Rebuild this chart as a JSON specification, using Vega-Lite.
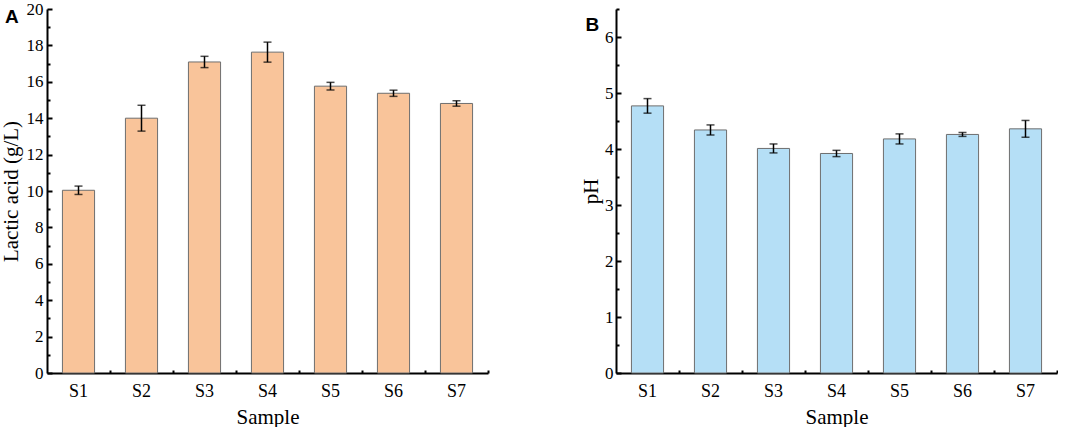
{
  "$schema": "https://vega.github.io/schema/vega-lite/v6.json",
  "padding": {"left": 0, "top": 0, "right": 0, "bottom": 0},
  "datasets": {
    "lactic": [
      {"sample": "S1", "value": 10.04, "err": 0.23},
      {"sample": "S2", "value": 14.0, "err": 0.71},
      {"sample": "S3", "value": 17.09, "err": 0.31},
      {"sample": "S4", "value": 17.63, "err": 0.55},
      {"sample": "S5", "value": 15.76, "err": 0.21},
      {"sample": "S6", "value": 15.37, "err": 0.17},
      {"sample": "S7", "value": 14.81, "err": 0.15}
    ],
    "ph": [
      {"sample": "S1", "value": 4.77, "err": 0.13},
      {"sample": "S2", "value": 4.34, "err": 0.09},
      {"sample": "S3", "value": 4.01, "err": 0.08},
      {"sample": "S4", "value": 3.92, "err": 0.056},
      {"sample": "S5", "value": 4.18, "err": 0.09},
      {"sample": "S6", "value": 4.26, "err": 0.035},
      {"sample": "S7", "value": 4.36, "err": 0.15}
    ]
  },
  "config": {
    "view": {"stroke": null},
    "axis": {
      "labelFont": "Liberation Serif",
      "titleFont": "Liberation Serif",
      "labelFontSize": 17,
      "titleFontSize": 21,
      "titleFontWeight": "normal",
      "labelColor": "#000",
      "titleColor": "#000",
      "domainColor": "#000",
      "tickColor": "#000",
      "domainWidth": 2,
      "tickWidth": 2,
      "grid": false
    },
    "title": {
      "font": "Liberation Sans",
      "fontSize": 19,
      "fontWeight": "bold",
      "color": "#000",
      "anchor": "start",
      "frame": "bounds",
      "offset": 0,
      "dx": 5,
      "dy": 31
    }
  },
  "spacing": 91,
  "hconcat": [
    {
      "width": 441,
      "height": 364,
      "data": {"name": "lactic"},
      "title": "A",
      "layer": [
        {
          "mark": {"type": "bar", "fill": "#F9C49A", "stroke": "#6E6E6E", "strokeWidth": 1},
          "encoding": {
            "x": {
              "field": "sample", "type": "nominal",
              "scale": {"paddingInner": 0.49, "paddingOuter": 0.245},
              "axis": {"orient": "bottom", "labelAngle": 0, "tickSize": -5, "labelPadding": 14, "labelFontSize": 18, "title": "Sample", "titlePadding": 6}
            },
            "y": {
              "field": "value", "type": "quantitative",
              "scale": {"domain": [0, 20], "nice": false},
              "axis": {"orient": "left", "values": [0, 2, 4, 6, 8, 10, 12, 14, 16, 18, 20], "tickSize": -5, "labelPadding": 9, "title": "Lactic acid (g/L)", "titlePadding": 5}
            }
          }
        },
        {
          "mark": {"type": "errorbar", "color": "#000", "ticks": {"size": 8, "thickness": 1.5}, "rule": {"strokeWidth": 1.5}},
          "encoding": {
            "x": {"field": "sample", "type": "nominal", "axis": null},
            "y": {"field": "value", "type": "quantitative", "axis": null},
            "yError": {"field": "err"}
          }
        },
        {
          "mark": {"type": "bar", "opacity": 0},
          "encoding": {
            "x": {"field": "sample", "type": "nominal", "axis": {"orient": "bottom", "labels": false, "domain": false, "title": null, "tickSize": -3, "tickOffset": 31.5}},
            "y": {"field": "value", "type": "quantitative", "axis": {"orient": "left", "labels": false, "domain": false, "title": null, "tickSize": -3, "values": [1, 3, 5, 7, 9, 11, 13, 15, 17, 19]}}
          }
        }
      ],
      "resolve": {"axis": {"x": "independent", "y": "independent"}}
    },
    {
      "width": 441,
      "height": 364,
      "data": {"name": "ph"},
      "title": "B",
      "layer": [
        {
          "mark": {"type": "bar", "fill": "#B5DFF6", "stroke": "#6E6E6E", "strokeWidth": 1},
          "encoding": {
            "x": {
              "field": "sample", "type": "nominal",
              "scale": {"paddingInner": 0.49, "paddingOuter": 0.245},
              "axis": {"orient": "bottom", "labelAngle": 0, "tickSize": -5, "labelPadding": 14, "labelFontSize": 18, "title": "Sample", "titlePadding": 6}
            },
            "y": {
              "field": "value", "type": "quantitative",
              "scale": {"domain": [0, 6.5], "nice": false},
              "axis": {"orient": "left", "values": [0, 1, 2, 3, 4, 5, 6], "tickSize": -5, "labelPadding": 8, "title": "pH", "titlePadding": 3}
            }
          }
        },
        {
          "mark": {"type": "errorbar", "color": "#000", "ticks": {"size": 8, "thickness": 1.5}, "rule": {"strokeWidth": 1.5}},
          "encoding": {
            "x": {"field": "sample", "type": "nominal", "axis": null},
            "y": {"field": "value", "type": "quantitative", "axis": null},
            "yError": {"field": "err"}
          }
        },
        {
          "mark": {"type": "bar", "opacity": 0},
          "encoding": {
            "x": {"field": "sample", "type": "nominal", "axis": {"orient": "bottom", "labels": false, "domain": false, "title": null, "tickSize": -3, "tickOffset": 31.5}},
            "y": {"field": "value", "type": "quantitative", "axis": {"orient": "left", "labels": false, "domain": false, "title": null, "tickSize": -3, "values": [0.5, 1.5, 2.5, 3.5, 4.5, 5.5, 6.5]}}
          }
        }
      ],
      "resolve": {"axis": {"x": "independent", "y": "independent"}}
    }
  ]
}
